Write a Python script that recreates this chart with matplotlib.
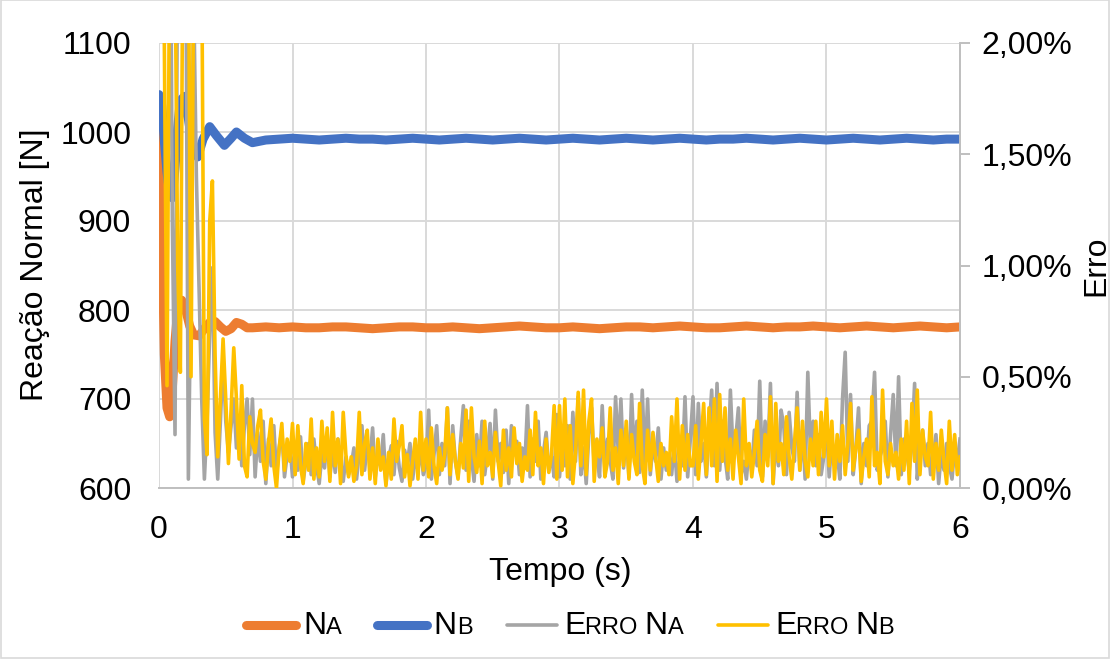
import numpy as np
import matplotlib
matplotlib.use("Agg")
import matplotlib.pyplot as plt
from matplotlib.offsetbox import HPacker, TextArea, DrawingArea, AnchoredOffsetbox
from matplotlib.lines import Line2D
from matplotlib.patches import Rectangle
from matplotlib.ticker import FuncFormatter

plt.rcParams['font.family'] = ['Liberation Sans', 'DejaVu Sans']

# ---------------- data ----------------
# Reação normal A (N)
na_t_early = [0.00, 0.02, 0.04, 0.06, 0.08, 0.10, 0.12, 0.14, 0.17, 0.20, 0.23, 0.26,
              0.30, 0.34, 0.38, 0.42, 0.46, 0.50, 0.54, 0.58, 0.62, 0.66, 0.70]
na_early = [1020, 905, 750, 690, 680, 712, 765, 800, 811, 800, 782, 772,
            771, 779, 786, 787, 781, 776, 779, 786, 784, 780, 780]
na_late = [781, 780, 781, 780, 780, 781, 781, 780, 779, 780,
           781, 781, 780, 780, 781, 780, 779, 780, 781, 782,
           781, 780, 780, 781, 780, 779, 780, 781, 781, 780,
           781, 782, 781, 780, 780, 781, 782, 781, 780, 781,
           781, 782, 781, 780, 781, 782, 781, 780, 781, 782,
           781, 780, 781]

# Reação normal B (N)
nb_t_early = [0.00, 0.02, 0.04, 0.06, 0.08, 0.10, 0.12, 0.14, 0.16, 0.19, 0.22, 0.25,
              0.29, 0.33, 0.38, 0.43, 0.49, 0.54, 0.58, 0.64, 0.70]
nb_early = [1042, 1030, 990, 955, 930, 926, 960, 1005, 1035, 1040, 1015, 985,
            972, 992, 1006, 996, 985, 993, 1000, 993, 988]
nb_late = [991, 992, 993, 992, 991, 992, 993, 992, 992, 991,
           992, 993, 992, 991, 992, 993, 992, 991, 992, 993,
           992, 991, 992, 993, 992, 991, 992, 993, 992, 991,
           992, 993, 992, 991, 992, 992, 993, 992, 991, 992,
           993, 992, 991, 992, 993, 992, 991, 992, 993, 992,
           991, 992, 992]

# Erro (%), sampled every 0.02 s from 0 to 6 s
erro_na = [
    2.8, 3.5, 3.0, 2.5, 3.2, 1.2, 0.24, 2.5, 3.4, 3.0,
    2.6, 0.04, 1.0, 2.2, 1.4, 0.9, 0.40, 0.04, 0.30, 0.70,
    0.99, 0.25, 0.04, 0.30, 0.59, 0.30, 0.16, 0.28, 0.40, 0.18,
    0.32, 0.10, 0.28, 0.40, 0.15, 0.40, 0.05, 0.25, 0.12, 0.30,
    0.02, 0.22, 0.10, 0.28, 0.06, 0.18, 0.26, 0.05, 0.15, 0.20,
    # 1 - 2 s
    0.05, 0.16, 0.08, 0.23, 0.03, 0.12, 0.20, 0.06, 0.22, 0.10,
    0.02, 0.15, 0.09, 0.24, 0.05, 0.18, 0.07, 0.22, 0.12, 0.03,
    0.14, 0.06, 0.10, 0.18, 0.04, 0.16, 0.28, 0.08, 0.20, 0.12,
    0.27, 0.05, 0.15, 0.10, 0.24, 0.02, 0.13, 0.19, 0.06, 0.21,
    0.09, 0.03, 0.17, 0.11, 0.20, 0.04, 0.14, 0.08, 0.18, 0.06,
    # 2 - 3 s
    0.10, 0.35, 0.04, 0.15, 0.28, 0.06, 0.20, 0.10, 0.36, 0.02,
    0.28, 0.12, 0.05, 0.22, 0.37, 0.08, 0.30, 0.14, 0.03, 0.24,
    0.10, 0.30, 0.06, 0.16, 0.29, 0.04, 0.35, 0.12, 0.20, 0.07,
    0.26, 0.02, 0.28, 0.15, 0.21, 0.06, 0.18, 0.10, 0.37, 0.05,
    0.22, 0.12, 0.30, 0.04, 0.16, 0.25, 0.08, 0.14, 0.05, 0.33,
    # 3 - 4 s
    0.05, 0.20, 0.10, 0.28, 0.04, 0.34, 0.12, 0.41, 0.06, 0.18,
    0.02, 0.24, 0.36, 0.10, 0.15, 0.05, 0.37, 0.08, 0.22, 0.12,
    0.04, 0.41, 0.16, 0.40, 0.09, 0.26, 0.05, 0.42, 0.14, 0.30,
    0.07, 0.44, 0.10, 0.40, 0.06, 0.20, 0.12, 0.27, 0.04, 0.18,
    0.08, 0.15, 0.06, 0.20, 0.03, 0.12, 0.10, 0.41, 0.05, 0.22,
    # 4 - 5 s
    0.41, 0.06, 0.38, 0.12, 0.20, 0.05, 0.25, 0.44, 0.10, 0.47,
    0.08, 0.30, 0.14, 0.04, 0.44, 0.16, 0.22, 0.36, 0.06, 0.12,
    0.04, 0.18, 0.08, 0.26, 0.10, 0.48, 0.05, 0.30, 0.14, 0.47,
    0.02, 0.22, 0.10, 0.35, 0.28, 0.06, 0.34, 0.18, 0.12, 0.43,
    0.08, 0.26, 0.04, 0.52, 0.16, 0.30, 0.10, 0.24, 0.06, 0.14,
    # 5 - 6 s
    0.30, 0.05, 0.22, 0.10, 0.16, 0.04, 0.40, 0.61, 0.12, 0.42,
    0.06, 0.18, 0.36, 0.02, 0.20, 0.10, 0.28, 0.30, 0.52, 0.08,
    0.14, 0.18, 0.30, 0.05, 0.24, 0.42, 0.10, 0.50, 0.06, 0.22,
    0.16, 0.08, 0.20, 0.47, 0.04, 0.18, 0.26, 0.10, 0.20, 0.06,
    0.14, 0.24, 0.02, 0.16, 0.08, 0.20, 0.10, 0.04, 0.18, 0.12, 0.22,
]

erro_nb = [
    2.5, 3.5, 2.0, 0.46, 2.5, 3.0, 2.4, 1.0, 0.52, 2.6,
    3.2, 2.5, 0.50, 2.4, 3.0, 2.2, 2.4, 0.31, 0.15, 1.20,
    1.38, 0.60, 0.14, 0.40, 0.67, 0.40, 0.11, 0.35, 0.63, 0.40,
    0.13, 0.46, 0.10, 0.05, 0.32, 0.20, 0.16, 0.28, 0.35, 0.12,
    0.04, 0.20, 0.31, 0.10, 0.00, 0.18, 0.29, 0.08, 0.22, 0.12,
    # 1 - 2 s
    0.29, 0.06, 0.28, 0.10, 0.02, 0.20, 0.08, 0.31, 0.04, 0.18,
    0.05, 0.30, 0.12, 0.27, 0.03, 0.34, 0.10, 0.22, 0.02, 0.34,
    0.15, 0.05, 0.14, 0.03, 0.10, 0.34, 0.06, 0.20, 0.26, 0.04,
    0.18, 0.02, 0.22, 0.08, 0.14, 0.01, 0.16, 0.04, 0.31, 0.12,
    0.19, 0.28, 0.05, 0.15, 0.01, 0.12, 0.22, 0.04, 0.34, 0.08,
    # 2 - 3 s
    0.22, 0.05, 0.27, 0.10, 0.02, 0.18, 0.08, 0.15, 0.36, 0.06,
    0.24, 0.12, 0.04, 0.20, 0.09, 0.35, 0.03, 0.36, 0.14, 0.07,
    0.21, 0.02, 0.30, 0.10, 0.16, 0.05, 0.25, 0.12, 0.01, 0.26,
    0.08, 0.18, 0.05, 0.27, 0.11, 0.20, 0.03, 0.14, 0.08, 0.26,
    0.06, 0.34, 0.10, 0.18, 0.02, 0.22, 0.07, 0.15, 0.37, 0.04,
    # 3 - 4 s
    0.37, 0.08, 0.40, 0.05, 0.28, 0.02, 0.16, 0.43, 0.10, 0.44,
    0.06, 0.30, 0.40, 0.03, 0.22, 0.14, 0.27, 0.05, 0.12, 0.36,
    0.08, 0.18, 0.02, 0.26, 0.10, 0.30, 0.04, 0.24, 0.12, 0.06,
    0.38, 0.10, 0.02, 0.26, 0.08, 0.25, 0.14, 0.03, 0.20, 0.10,
    0.16, 0.06, 0.32, 0.12, 0.40, 0.04, 0.28, 0.08, 0.24, 0.10,
    # 4 - 5 s
    0.10, 0.28, 0.04, 0.20, 0.38, 0.06, 0.36, 0.10, 0.40, 0.03,
    0.42, 0.12, 0.36, 0.08, 0.22, 0.04, 0.26, 0.14, 0.02, 0.40,
    0.10, 0.20, 0.05, 0.16, 0.30, 0.08, 0.03, 0.24, 0.10, 0.41,
    0.02, 0.38, 0.12, 0.20, 0.06, 0.32, 0.14, 0.04, 0.20, 0.36,
    0.08, 0.30, 0.12, 0.05, 0.22, 0.10, 0.30, 0.06, 0.34, 0.14,
    # 5 - 6 s
    0.40, 0.10, 0.30, 0.04, 0.24, 0.12, 0.28, 0.06, 0.20, 0.38,
    0.08, 0.18, 0.26, 0.03, 0.14, 0.22, 0.05, 0.41, 0.10, 0.16,
    0.02, 0.44, 0.12, 0.06, 0.20, 0.10, 0.16, 0.04, 0.22, 0.08,
    0.30, 0.02, 0.38, 0.12, 0.44, 0.06, 0.26, 0.14, 0.10, 0.34,
    0.04, 0.20, 0.08, 0.26, 0.12, 0.02, 0.30, 0.08, 0.24, 0.06, 0.14,
]

x_ticks = [0, 1, 2, 3, 4, 5, 6]
y_ticks = [600, 700, 800, 900, 1000, 1100]
y2_ticks = [0.0, 0.5, 1.0, 1.5, 2.0]

# time grids
na_t = na_t_early + list(np.round(0.8 + 0.1 * np.arange(len(na_late)), 2))
nb_t = nb_t_early + list(np.round(0.8 + 0.1 * np.arange(len(nb_late)), 2))
na = na_early + na_late
nb = nb_early + nb_late
t_err = np.linspace(0, 6, len(erro_na))

# ---------------- styling ----------------
C_NA = '#ED7D31'
C_NB = '#4472C4'
C_ENA = '#A5A5A5'
C_ENB = '#FFC000'
GRID = '#D9D9D9'
AXC = '#BFBFBF'
FS = 23
FS_SMALL = 17

fig = plt.figure(figsize=(11.10, 6.59), dpi=100)
ax = fig.add_axes([159 / 1110, 1 - 488 / 659, 801 / 1110, 445 / 659])
ax2 = ax.twinx()

ax.plot(na_t, na, color=C_NA, lw=6.5, solid_capstyle='round', solid_joinstyle='round', zorder=3)
ax.plot(nb_t, nb, color=C_NB, lw=6.5, solid_capstyle='round', solid_joinstyle='round', zorder=3)
ax2.plot(t_err, erro_na, color=C_ENA, lw=2.6, solid_joinstyle='round', zorder=3)
ax2.plot(t_err, erro_nb, color=C_ENB, lw=2.6, solid_joinstyle='round', zorder=4)

ax.set_xlim(0, 6)
ax.set_ylim(600, 1100)
ax2.set_ylim(0, 2.0)
ax.set_xticks(x_ticks)
ax.set_yticks(y_ticks)
ax2.set_yticks(y2_ticks)
ax2.yaxis.set_major_formatter(FuncFormatter(lambda v, p: f"{v:.2f}%".replace('.', ',')))

ax.grid(True, color=GRID, lw=1.4, zorder=0)
ax.set_axisbelow(True)
for s in ['top', 'left', 'right']:
    ax.spines[s].set_visible(False)
ax.spines['bottom'].set_color(AXC)
ax.spines['bottom'].set_linewidth(1.4)
for s in ['top', 'left', 'bottom']:
    ax2.spines[s].set_visible(False)
ax2.spines['right'].set_color(AXC)
ax2.spines['right'].set_linewidth(1.4)

ax.tick_params(axis='x', length=0, pad=19.5, labelsize=FS, labelcolor='black')
ax.tick_params(axis='y', length=0, pad=20, labelsize=FS, labelcolor='black')
ax2.tick_params(axis='y', direction='out', length=7.2, width=1.4, color=AXC,
                pad=8.2, labelsize=FS, labelcolor='black')

fig.text(35 / 1110, 1 - 265 / 659, 'Reação Normal [N]', rotation=90, ha='center', va='center',
         fontsize=FS, color='black')
fig.text(560 / 1110, 1 - 572 / 659, 'Tempo (s)', ha='center', va='center', fontsize=FS, color='black')
fig.text(1096 / 1110, 1 - 266 / 659, 'Erro', rotation=90, ha='center', va='center',
         fontsize=FS, color='black')

# ---------------- legend (small caps) ----------------
def item(color, lw, pieces):
    da = DrawingArea(42, 14, 0, 0)
    da.add_artist(Line2D([3, 39], [6.5, 6.5], color=color, lw=lw, solid_capstyle='round'))
    texts = [TextArea(s, textprops=dict(fontsize=f, color='black')) for s, f in pieces]
    txt = HPacker(children=texts, align='baseline', pad=0, sep=0)
    return HPacker(children=[da, txt], align='baseline', pad=0, sep=2)

items = [
    item(C_NA, 6.5, [('N', FS), ('A', FS_SMALL)]),
    item(C_NB, 6.5, [('N', FS), ('B', FS_SMALL)]),
    item(C_ENA, 2.6, [('E', FS), ('RRO ', FS_SMALL), ('N', FS), ('A', FS_SMALL)]),
    item(C_ENB, 2.6, [('E', FS), ('RRO ', FS_SMALL), ('N', FS), ('B', FS_SMALL)]),
]
pack = HPacker(children=items, align='baseline', pad=0, sep=22)
anch = AnchoredOffsetbox(loc='center', child=pack, pad=0, borderpad=0, frameon=False,
                         bbox_to_anchor=(568 / 1110, 1 - 626 / 659),
                         bbox_transform=fig.transFigure)
fig.add_artist(anch)

fig.patches.append(Rectangle((0.0005, 0.0008), 0.999, 0.9985, transform=fig.transFigure,
                             fill=False, edgecolor=GRID, lw=1.2))

fig.savefig('out.png', dpi=100)
